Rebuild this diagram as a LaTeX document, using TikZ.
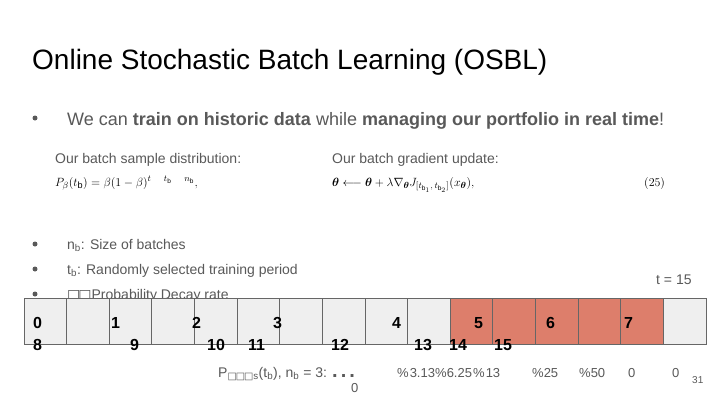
\documentclass[tikz,border=0pt]{standalone}
\usepackage{amsmath}
\usepackage{fontspec}
\setmainfont{Liberation Sans}
\newfontfamily\symfont{DejaVu Sans}
\definecolor{txt}{HTML}{595959}
\definecolor{hotred}{HTML}{DD7E6B}
\definecolor{cellgray}{HTML}{EFEFEF}
\definecolor{cellline}{HTML}{666666}
\newcommand{\fs}[1]{\fontsize{#1bp}{1.2#1bp}\selectfont}
\newcommand{\tofu}{{\symfont\char"25A1}}

\tikzset{
  lbl/.style={anchor=base west, inner sep=0pt, text=txt},
  num/.style={anchor=base west, inner sep=0pt, font=\fs{16}\bfseries},
  cell/.style={draw=cellline, line width=0.8bp, fill=cellgray,
    minimum width=42.625bp, minimum height=46bp, inner sep=0pt},
  hot/.style={cell, fill=hotred},
  dot/.style={circle, fill=txt, minimum size=5bp, inner sep=0pt}
}

\begin{document}
\begin{tikzpicture}[x=1bp, y=-1bp]
  \useasboundingbox[fill=white] (0,0) rectangle (720,405);

  % Title
  \node[anchor=base west, inner sep=0pt, font=\fs{28}] (title) at (32,69)
    {Online Stochastic Batch Learning (OSBL)};

  % Main bullet
  \node[dot] (d0) at (35,118) {};
  \node[lbl, font=\fs{18}] (intro) at (67,125)
    {We can \textbf{train on historic data} while \textbf{managing our portfolio in real time}!};

  % Formulas
  \node[lbl, font=\fs{14}] (sampl) at (55,163) {Our batch sample distribution:};
  \node[lbl, text=black, font=\fs{13}] (psamp) at (55,186)
    {$P_\beta(t_{\mathrm b}) = \beta(1-\beta)^{t\quad t_{\mathrm b}\quad n_{\mathrm b}},$};
  \node[lbl, font=\fs{14}] (gradl) at (332,163) {Our batch gradient update:};
  \node[lbl, text=black, font=\fs{13}] (grad) at (332,186)
    {$\boldsymbol\theta \longleftarrow \boldsymbol\theta + \lambda\nabla_{\boldsymbol\theta} J_{[t_{\mathrm b_1},\,t_{\mathrm b_2}]}(x_{\boldsymbol\theta}),$};
  \node[lbl, text=black, font=\fs{13}] (eqno) at (644,186) {$(25)$};

  % Definitions
  \node[dot] (d1) at (35,244) {};
  \node[lbl, font=\fs{14}] (nb) at (67,249) {n\textsubscript{b}: Size of batches};
  \node[dot] (d2) at (35,269) {};
  \node[lbl, font=\fs{14}] (tb) at (67,274) {t\textsubscript{b}: Randomly selected training period};
  \node[dot] (d3) at (35,294) {};
  \node[lbl, font=\fs{14}] (beta) at (67,299) {\tofu\kern-2bp\tofu Probability Decay rate};
  \node[lbl, font=\fs{14}] (now) at (656,284) {t = 15};

  % Batch cells
  \foreach \i in {0,...,15} {
    \ifnum\i>9 \ifnum\i<15
      \node[hot] (c\i) at (45.3+42.625*\i,321) {};
    \else
      \node[cell] (c\i) at (45.3+42.625*\i,321) {};
    \fi\else
      \node[cell] (c\i) at (45.3+42.625*\i,321) {};
    \fi
  }

  % Cell numbers
  \foreach \t/\x/\y [count=\k] in {0/33/328, 8/33/350, 1/111/328, 9/130/350,
      2/192/328, 10/207/350, 11/248/350, 3/273/328, 12/331/350, 4/392/328,
      13/414/350, 14/449/350, 5/474/328, 15/494/350, 6/546/328, 7/624/328}
    \node[num] (n\k) at (\x,\y) {\t};

  % Probabilities
  \node[lbl, font=\fs{14}] (plbl) at (218,377)
    {P\textsubscript{\tofu\kern-1bp\tofu\kern-1bp\tofu s}(t\textsubscript{b}), n\textsubscript{b} = 3:};
  \node[lbl, font=\fs{20}\bfseries] (dots) at (332,377) {.\kern3bp.\kern3bp.};
  \node[lbl, font=\fs{13}] (p0) at (351,392) {0};
  \foreach \t/\x [count=\k] in {\%\kern1bp3.13/397, \%6.25/435, \%\kern1bp13/473,
      \%25/532, \%50/579, 0/628, 0/672}
    \node[lbl, font=\fs{13}] (p\k) at (\x,377) {\t};

  % Slide number
  \node[lbl, font=\fs{10}] (page) at (692,383) {31};
\end{tikzpicture}
\end{document}
